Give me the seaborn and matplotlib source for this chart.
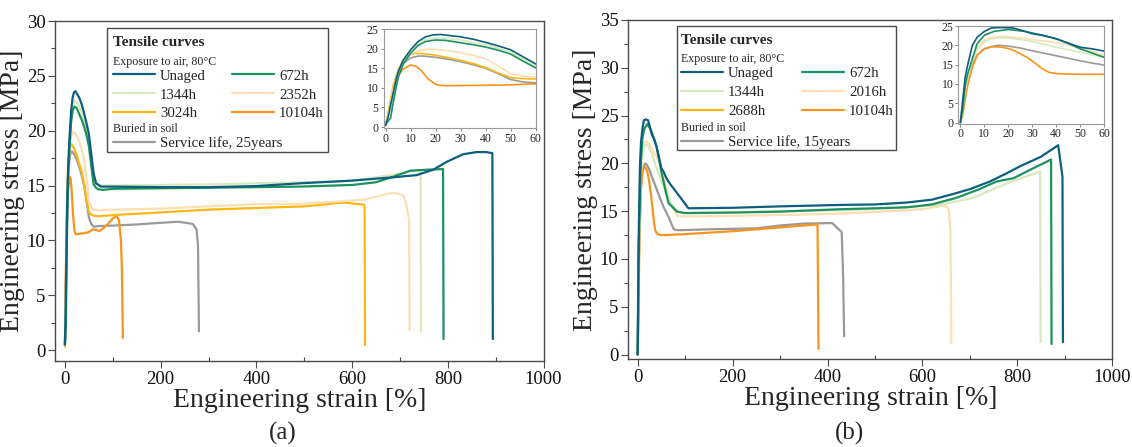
import matplotlib
matplotlib.use("Agg")
import matplotlib.pyplot as plt
from matplotlib.lines import Line2D
from matplotlib.patches import Rectangle
from matplotlib.ticker import MultipleLocator
import pandas as pd
import seaborn as sns

# ---------------- data: panel (a) ----------------
A_UNAGED_X = [0, 1, 2, 3, 4, 5, 7, 10, 13, 16, 19, 22, 26, 30, 35, 40, 45, 50, 55, 60, 65, 75, 100, 200, 300, 400, 491, 600, 686, 735, 770, 797, 832, 860, 880, 893, 894]
A_UNAGED_Y = [0.5, 2.5, 5.5, 8.5, 11.5, 14.0, 17.0, 19.7, 21.8, 23.0, 23.5, 23.6, 23.3, 23.0, 22.4, 21.6, 20.7, 19.7, 17.9, 16.1, 15.2, 14.9, 14.9, 14.85, 14.85, 14.95, 15.2, 15.45, 15.75, 15.95, 16.45, 17.15, 17.85, 18.05, 18.05, 17.95, 1.0]

A_672_X = [0, 1, 2, 3, 5, 7, 10, 13, 16, 20, 24, 30, 35, 40, 45, 50, 55, 60, 65, 70, 80, 100, 200, 300, 400, 491, 600, 650, 686, 721, 760, 790, 791]
A_672_Y = [0.5, 1.5, 2.3, 6.0, 12.5, 16.0, 18.8, 20.8, 21.8, 22.2, 22.1, 21.5, 21.0, 20.4, 19.6, 18.6, 16.8, 15.1, 14.8, 14.65, 14.6, 14.7, 14.75, 14.8, 14.85, 14.9, 15.05, 15.3, 15.8, 16.35, 16.45, 16.5, 1.0]

A_1344_X = [0, 1, 2, 3, 5, 7, 10, 13, 16, 20, 25, 30, 35, 40, 45, 50, 55, 60, 70, 80, 100, 200, 300, 400, 491, 600, 700, 738, 743, 744]
A_1344_Y = [0.5, 2.0, 4.5, 8.0, 13.5, 16.8, 19.3, 21.3, 22.3, 22.7, 22.6, 22.2, 21.6, 21.0, 20.1, 19.1, 17.3, 15.6, 15.1, 15.0, 15.0, 15.05, 15.1, 15.2, 15.3, 15.4, 16.1, 16.4, 16.4, 1.7]

A_2352_X = [0, 1, 2, 3, 5, 7, 10, 13, 17, 20, 25, 30, 35, 40, 45, 50, 55, 60, 70, 100, 200, 300, 400, 500, 623, 686, 707, 714, 719, 720]
A_2352_Y = [0.5, 3.0, 6.0, 9.5, 14.0, 16.5, 18.6, 19.5, 19.9, 19.8, 19.5, 19.0, 18.3, 17.4, 15.6, 13.6, 13.0, 12.8, 12.75, 12.8, 12.9, 13.1, 13.3, 13.35, 13.7, 14.35, 14.1, 13.1, 11.85, 1.8]

A_3024_X = [0, 1, 2, 3, 5, 7, 10, 12, 15, 20, 25, 30, 35, 40, 45, 50, 55, 60, 70, 100, 200, 300, 400, 500, 582, 623, 626, 627]
A_3024_Y = [0.3, 3.5, 7.0, 10.5, 14.5, 17.0, 18.5, 18.8, 18.7, 18.3, 17.7, 17.0, 16.2, 15.2, 13.8, 12.6, 12.35, 12.25, 12.2, 12.3, 12.55, 12.8, 12.95, 13.1, 13.45, 13.25, 13.2, 0.45]

A_10104_X = [0, 1, 2, 3, 5, 7, 10, 12, 14, 17, 20, 22, 25, 30, 40, 50, 58, 65, 72, 80, 90, 100, 108, 113, 117, 119, 121]
A_10104_Y = [0.5, 3.0, 6.5, 9.5, 13.0, 14.8, 15.8, 15.6, 14.6, 12.3, 10.9, 10.6, 10.55, 10.6, 10.65, 10.75, 11.0, 10.95, 10.85, 11.1, 11.5, 12.0, 12.2, 11.8, 10.0, 7.5, 1.1]

A_SOIL_X = [0, 1, 2, 3, 5, 7, 10, 13, 15, 20, 25, 30, 35, 40, 45, 50, 55, 60, 70, 100, 150, 200, 237, 267, 275, 278, 280]
A_SOIL_Y = [0.5, 3.0, 6.0, 9.0, 14.0, 16.2, 17.6, 18.1, 18.1, 17.8, 17.3, 16.7, 15.9, 15.0, 13.6, 12.1, 11.5, 11.25, 11.3, 11.35, 11.45, 11.6, 11.7, 11.5, 11.0, 9.5, 1.7]

# ---------------- data: panel (b) ----------------
B_UNAGED_X = [0, 1, 2, 3, 5, 7, 10, 13, 17, 22, 26, 30, 35, 40, 45, 50, 55, 60, 69, 83, 107, 200, 300, 427, 500, 567, 620, 665, 700, 742, 775, 806, 850, 886, 895, 896]
B_UNAGED_Y = [0, 6.0, 11.7, 14.8, 20.0, 22.1, 23.6, 24.5, 24.6, 24.5, 23.8, 23.0, 22.5, 21.7, 20.6, 19.5, 19.1, 18.5, 17.8, 16.9, 15.3, 15.35, 15.5, 15.65, 15.7, 15.9, 16.2, 16.8, 17.3, 18.1, 18.9, 19.7, 20.7, 21.9, 18.6, 1.3]

B_672_X = [0, 1, 2, 3, 5, 7, 10, 14, 20, 27, 33, 40, 45, 50, 55, 60, 65, 83, 100, 200, 300, 427, 500, 567, 620, 672, 720, 756, 792, 830, 871, 872]
B_672_Y = [0, 3.5, 9.5, 12.5, 16.5, 20.4, 22.6, 23.6, 24.1, 23.6, 22.8, 21.7, 20.5, 19.1, 18.0, 16.9, 15.85, 14.95, 14.8, 14.85, 14.95, 15.2, 15.3, 15.4, 15.7, 16.4, 17.3, 18.1, 18.45, 19.4, 20.4, 1.1]

B_1344_X = [0, 1, 2, 3, 5, 7, 10, 13, 17, 22, 30, 40, 50, 60, 70, 85, 100, 200, 300, 427, 500, 637, 707, 778, 848, 849]
B_1344_Y = [0, 4.0, 8.5, 11.5, 16.0, 19.0, 20.9, 21.7, 22.0, 21.8, 21.0, 19.5, 18.2, 16.9, 15.8, 14.9, 14.8, 14.9, 15.0, 15.1, 15.2, 15.65, 16.4, 17.9, 19.15, 1.3]

B_2016_X = [0, 1, 2, 3, 5, 7, 10, 13, 18, 24, 30, 40, 50, 60, 70, 83, 100, 200, 300, 400, 500, 600, 644, 655, 659, 661]
B_2016_Y = [0, 4.5, 9.0, 12.0, 16.5, 19.5, 21.3, 22.1, 22.3, 22.0, 21.5, 20.7, 19.5, 17.4, 15.8, 14.5, 14.45, 14.5, 14.6, 14.7, 14.9, 15.2, 15.6, 15.3, 13.1, 1.2]

B_10104_X = [0, 1, 2, 3, 5, 7, 10, 13, 16, 20, 23, 28, 31, 34, 37, 40, 45, 50, 60, 100, 200, 300, 375, 379, 381]
B_10104_Y = [0, 2.0, 6.0, 9.5, 14.3, 17.4, 19.1, 19.6, 19.6, 19.2, 18.5, 16.8, 15.5, 14.0, 13.0, 12.7, 12.55, 12.5, 12.5, 12.6, 12.9, 13.3, 13.6, 13.6, 0.6]

B_SOIL_X = [0, 1, 2, 3, 5, 7, 10, 13, 16, 20, 25, 30, 40, 50, 55, 65, 76, 85, 150, 250, 300, 350, 410, 430, 433, 435]
B_SOIL_Y = [0, 3.5, 8.7, 11.5, 14.8, 17.5, 19.1, 19.7, 20.0, 19.8, 19.3, 18.6, 17.3, 16.0, 15.4, 14.4, 13.1, 13.0, 13.1, 13.2, 13.5, 13.7, 13.75, 12.8, 8.0, 1.9]

COLORS = {
    "Unaged": "#0e5f7e",
    "672h": "#1d9160",
    "1344h": "#d8e9bd",
    "2352h": "#fddfb3",
    "2016h": "#fddfb3",
    "3024h": "#fdb714",
    "2688h": "#fdb714",
    "10104h": "#f7941e",
    "Service life, 25years": "#9a9a9a",
    "Service life, 15years": "#9d9893",
}

PANEL_A = {
    "Unaged": (A_UNAGED_X, A_UNAGED_Y), "672h": (A_672_X, A_672_Y),
    "1344h": (A_1344_X, A_1344_Y), "2352h": (A_2352_X, A_2352_Y),
    "3024h": (A_3024_X, A_3024_Y), "10104h": (A_10104_X, A_10104_Y),
    "Service life, 25years": (A_SOIL_X, A_SOIL_Y),
}
PANEL_B = {
    "Unaged": (B_UNAGED_X, B_UNAGED_Y), "672h": (B_672_X, B_672_Y),
    "1344h": (B_1344_X, B_1344_Y), "2016h": (B_2016_X, B_2016_Y),
    "10104h": (B_10104_X, B_10104_Y),
    "Service life, 15years": (B_SOIL_X, B_SOIL_Y),
}
LEGEND_A = [["Unaged", "1344h", "3024h", "672h", "2352h", "10104h"], "Service life, 25years"]
LEGEND_B = [["Unaged", "1344h", "2688h", "672h", "2016h", "10104h"], "Service life, 15years"]

sns.set_theme(style="ticks")
plt.rcParams["font.family"] = ["Liberation Serif", "DejaVu Serif"]
plt.rcParams["mathtext.fontset"] = "stix"

fig = plt.figure(figsize=(11.32, 4.47), dpi=100)
fig.patch.set_facecolor("white")

SPINE = "#4a4a4a"


def make_df(curves):
    frames = [pd.DataFrame({"strain": x, "stress": y, "series": name}) for name, (x, y) in curves.items()]
    return pd.concat(frames, ignore_index=True)


def draw_curves(ax, df, order, lw):
    sns.lineplot(data=df, x="strain", y="stress", hue="series", hue_order=order,
                 palette=COLORS, sort=False, estimator=None, legend=False,
                 linewidth=lw, ax=ax)


def style_main(ax, ylim):
    ax.set_xlim(-20, 1000)
    ax.set_ylim(*ylim)
    ax.xaxis.set_major_locator(MultipleLocator(200))
    ax.xaxis.set_minor_locator(MultipleLocator(100))
    ax.yaxis.set_major_locator(MultipleLocator(5))
    ax.yaxis.set_minor_locator(MultipleLocator(2.5))
    for s in ax.spines.values():
        s.set_color(SPINE)
        s.set_linewidth(1.0)
    ax.tick_params(axis="both", which="major", labelsize=13.5, length=5, width=0.8,
                   color=SPINE, labelcolor="#111111", pad=2)
    ax.tick_params(axis="x", which="major", direction="out")
    ax.tick_params(axis="x", which="minor", direction="in", length=3, width=0.8, color=SPINE)
    ax.tick_params(axis="y", which="both", direction="out")
    ax.tick_params(axis="y", which="minor", length=3, width=0.8, color=SPINE)
    ax.set_xlabel("Engineering strain [%]", fontsize=20, labelpad=0)
    ax.set_ylabel("Engineering stress [MPa]", fontsize=20, labelpad=1)
    ax.grid(False)


def style_inset(ax):
    ax.set_xlim(-0.8, 60)
    ax.set_ylim(-0.25, 25)
    ax.xaxis.set_major_locator(MultipleLocator(10))
    ax.yaxis.set_major_locator(MultipleLocator(5))
    for s in ax.spines.values():
        s.set_color("#9a9a9a")
        s.set_linewidth(0.8)
    ax.tick_params(axis="both", which="major", labelsize=8.5, length=2.5, width=0.6,
                   color="#777777", direction="out", pad=1)
    ax.set_xlabel("")
    ax.set_ylabel("")
    ax.grid(False)


def draw_legend(ax, box, x0, y_title, y_expo, y_rows, y_soil_text, y_soil, names, colspace):
    ax.add_patch(Rectangle((box[0], box[1]), box[2], box[3], transform=ax.transAxes,
                           facecolor="white", edgecolor=SPINE, linewidth=1.0, zorder=4))
    ax.text(x0, y_title, "Tensile curves", transform=ax.transAxes, fontsize=11,
            fontweight="bold", ha="left", va="center", zorder=6)
    ax.text(x0, y_expo, "Exposure to air, 80\u00b0C", transform=ax.transAxes, fontsize=8.6,
            ha="left", va="center", zorder=6)
    ax.text(x0, y_soil_text, "Buried in soil", transform=ax.transAxes, fontsize=8.6,
            ha="left", va="center", zorder=6)
    handles = [Line2D([], [], color=COLORS[n], lw=1.6, label=n) for n in names[0]]
    common = dict(loc="upper left", frameon=False, fontsize=10.7, handlelength=2.82,
                  handletextpad=0.34, labelspacing=0.37, borderpad=0, borderaxespad=0)
    leg1 = ax.legend(handles=handles, ncol=2, columnspacing=colspace,
                     bbox_to_anchor=(x0, y_rows), **common)
    leg1.set_zorder(6)
    ax.add_artist(leg1)
    leg2 = ax.legend(handles=[Line2D([], [], color=COLORS[names[1]], lw=1.6, label=names[1])],
                     bbox_to_anchor=(x0, y_soil), **common)
    leg2.set_zorder(6)


# ---------------- panel (a) ----------------
df_a = make_df(PANEL_A)
order_a = ["Service life, 25years", "10104h", "3024h", "2352h", "1344h", "672h", "Unaged"]
ax_a = fig.add_axes([0.0489, 0.1924, 0.4313, 0.7606])
draw_curves(ax_a, df_a, order_a, 1.6)
style_main(ax_a, (-1, 30))
draw_legend(ax_a, (0.1061, 0.6147, 0.4521, 0.3656), 0.1186, 0.936, 0.878, 0.858,
            0.682, 0.661, LEGEND_A, 1.74)

ins_a = fig.add_axes([0.3388, 0.7136, 0.1344, 0.2215])
draw_curves(ins_a, df_a, order_a, 1.2)
style_inset(ins_a)

# ---------------- panel (b) ----------------
df_b = make_df(PANEL_B)
order_b = ["Service life, 15years", "10104h", "2016h", "1344h", "672h", "Unaged"]
ax_b = fig.add_axes([0.5549, 0.1962, 0.4277, 0.7591])
draw_curves(ax_b, df_b, order_b, 1.6)
style_main(ax_b, (-0.5, 35))
draw_legend(ax_b, (0.1002, 0.6168, 0.4528, 0.3665), 0.1091, 0.939, 0.884, 0.862,
            0.683, 0.659, LEGEND_B, 1.91)

ins_b = fig.add_axes([0.8467, 0.7237, 0.1286, 0.2181])
draw_curves(ins_b, df_b, order_b, 1.2)
style_inset(ins_b)

fig.text(0.250, 0.031, "(a)", fontsize=18, ha="center", va="center")
fig.text(0.750, 0.031, "(b)", fontsize=18, ha="center", va="center")

fig.savefig("out.png", dpi=100, facecolor="white")
